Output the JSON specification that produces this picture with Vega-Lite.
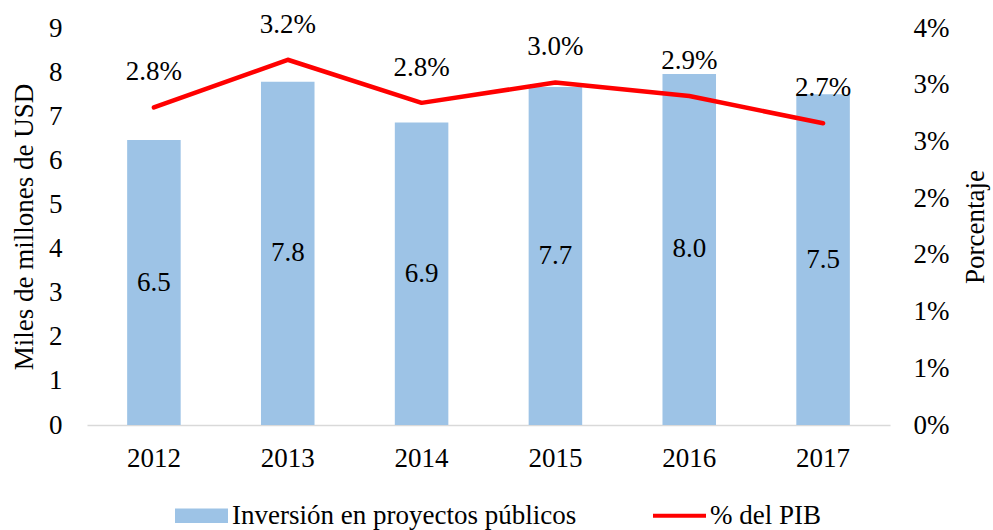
{
  "$schema": "https://vega.github.io/schema/vega-lite/v6.json",
  "width": 803,
  "height": 397,
  "autosize": {"type": "none"},
  "padding": {"left": 87, "top": 28, "right": 103, "bottom": 105},
  "config": {
    "view": {"stroke": null},
    "font": "Liberation Serif, Times New Roman, DejaVu Serif, serif",
    "axis": {
      "grid": false,
      "ticks": false,
      "labelFont": "Liberation Serif, Times New Roman, DejaVu Serif, serif",
      "titleFont": "Liberation Serif, Times New Roman, DejaVu Serif, serif",
      "labelFontSize": 27,
      "titleFontSize": 27,
      "titleFontWeight": "normal",
      "labelColor": "#000000",
      "titleColor": "#000000"
    },
    "legend": {"labelFont": "Liberation Serif, Times New Roman, DejaVu Serif, serif"},
    "text": {"font": "Liberation Serif, Times New Roman, DejaVu Serif, serif", "fontSize": 27, "color": "#000000"}
  },
  "data": {
    "values": [
      {"year": "2012", "inv": 6.46, "pib": 0.0280},
      {"year": "2013", "inv": 7.78, "pib": 0.0322},
      {"year": "2014", "inv": 6.86, "pib": 0.0284},
      {"year": "2015", "inv": 7.66, "pib": 0.0302},
      {"year": "2016", "inv": 7.96, "pib": 0.0290},
      {"year": "2017", "inv": 7.50, "pib": 0.0266}
    ]
  },
  "encoding": {
    "x": {
      "field": "year",
      "type": "ordinal",
      "scale": {"paddingInner": 0.6, "paddingOuter": 0.3},
      "axis": {"title": null, "labelAngle": 0, "domainColor": "#D9D9D9", "domainWidth": 1.3, "labelPadding": 20}
    }
  },
  "layer": [
    {
      "layer": [
        {
          "mark": {"type": "bar", "color": "#9DC3E6"},
          "encoding": {
            "y": {
              "field": "inv",
              "type": "quantitative",
              "scale": {"domain": [0, 9], "nice": false},
              "axis": {"title": "Miles de millones de USD", "domain": false, "values": [0,1,2,3,4,5,6,7,8,9], "labelPadding": 25, "titlePadding": 10}
            },
            "color": {
              "datum": "Inversión en proyectos públicos",
              "type": "nominal",
              "scale": {"domain": ["Inversión en proyectos públicos", "% del PIB"], "range": ["#9DC3E6", "#FF0000"]},
              "legend": {
                "orient": "none",
                "legendX": 88,
                "legendY": 461,
                "direction": "horizontal",
                "title": null,
                "labelFontSize": 27,
                "labelLimit": 600,
                "labelFont": "Liberation Serif, Times New Roman, DejaVu Serif, serif",
                "labelColor": "#000000",
                "symbolSize": 2809,
                "labelOffset": 4,
                "columnPadding": 76,
                "symbolStrokeWidth": 0,
                "encode": {
                  "symbols": {
                    "update": {
                      "shape": {"signal": "datum.value === '% del PIB' ? 'M-1,-0.08H1V0.08H-1Z' : 'M-1,-0.27H1V0.27H-1Z'"},
                      "fill": {"scale": "color", "field": "value"},
                      "stroke": {"value": "transparent"},
                      "opacity": {"value": 1}
                    }
                  }
                }
              }
            }
          }
        },
        {
          "mark": {"type": "text", "baseline": "middle"},
          "encoding": {
            "y": {
              "field": "inv",
              "type": "quantitative",
              "stack": "zero",
              "bandPosition": 0.5,
              "scale": {"domain": [0, 9], "nice": false},
              "axis": {"title": "Miles de millones de USD", "domain": false, "values": [0,1,2,3,4,5,6,7,8,9], "labelPadding": 25, "titlePadding": 10}
            },
            "text": {"field": "inv", "type": "quantitative", "format": ".1f"}
          }
        }
      ]
    },
    {
      "layer": [
        {
          "mark": {"type": "line", "color": "#FF0000", "strokeWidth": 4.5, "strokeCap": "round", "strokeJoin": "round"},
          "encoding": {
            "y": {
              "field": "pib",
              "type": "quantitative",
              "scale": {"domain": [0, 0.035], "nice": false},
              "axis": {"orient": "right", "title": "Porcentaje", "titleAngle": 270, "titleBaseline": "top", "domain": false, "values": [0, 0.005, 0.01, 0.015, 0.02, 0.025, 0.03, 0.035], "labelExpr": "floor(datum.value * 100 + 0.5001) + '%'", "labelPadding": 23, "titlePadding": 14}
            },
            "color": {"datum": "% del PIB", "type": "nominal"}
          }
        },
        {
          "mark": {"type": "text", "baseline": "middle", "dy": -35},
          "encoding": {
            "y": {
              "field": "pib",
              "type": "quantitative",
              "scale": {"domain": [0, 0.035], "nice": false},
              "axis": {"orient": "right", "title": "Porcentaje", "titleAngle": 270, "titleBaseline": "top", "domain": false, "values": [0, 0.005, 0.01, 0.015, 0.02, 0.025, 0.03, 0.035], "labelExpr": "floor(datum.value * 100 + 0.5001) + '%'", "labelPadding": 23, "titlePadding": 14}
            },
            "text": {"field": "pib", "type": "quantitative", "format": ".1%"}
          }
        }
      ]
    }
  ],
  "resolve": {"scale": {"y": "independent"}}
}
